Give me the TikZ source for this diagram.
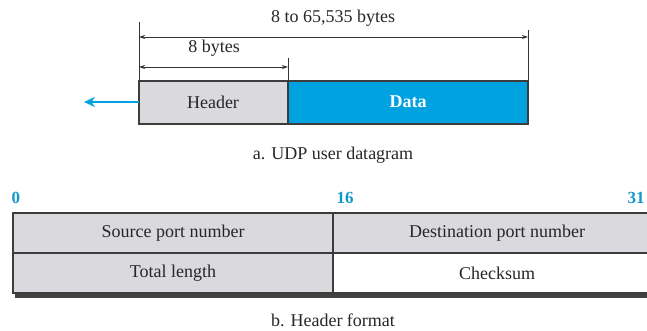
\documentclass[tikz,border=0pt]{standalone}
\usepackage{fontspec}
\setmainfont{Liberation Serif}
\usetikzlibrary{arrows.meta}
\definecolor{cellgray}{RGB}{218,218,222}
\definecolor{datacyan}{RGB}{0,162,224}
\definecolor{numcyan}{RGB}{20,150,205}
\definecolor{edge}{RGB}{60,60,60}
\tikzset{
  x=1pt, y=-1pt,
  lbl/.style={font=\fontsize{18}{20}\selectfont, inner sep=0pt, text=black!85},
  num/.style={font=\fontsize{17}{19}\selectfont\bfseries, inner sep=0pt, text=numcyan},
  cell/.style={draw=edge, line width=1.3pt},
  dim/.style={draw=black!80, line width=0.9pt, {Stealth[length=6pt,width=4pt]}-{Stealth[length=6pt,width=4pt]}},
  tick/.style={draw=black!80, line width=0.9pt},
}
\begin{document}
\begin{tikzpicture}
\useasboundingbox (0,0) rectangle (647,331);
% part a
\fill[cellgray] (139,81) rectangle (288,124);
\fill[datacyan] (288,81) rectangle (528,124);
\draw[cell] (139,81) rectangle (528,124);
\draw[cell] (288,81) -- (288,124);
\node[lbl] (hdr) at (213,102) {Header};
\node[lbl, text=white, font=\fontsize{18}{20}\selectfont\bfseries] (data) at (408,102) {Data};
\coordinate (l0) at (139,22);
\coordinate (lb) at (139,81);
\coordinate (m0) at (288,58);
\coordinate (mb) at (288,81);
\coordinate (r0) at (528,30);
\coordinate (rb) at (528,81);
\draw[tick] (l0) -- (lb);
\draw[tick] (m0) -- (mb);
\draw[tick] (r0) -- (rb);
\coordinate (a1) at (139,37);
\coordinate (a2) at (528,37);
\coordinate (b1) at (139,67);
\coordinate (b2) at (288,67);
\draw[dim] (a1) -- (a2);
\draw[dim] (b1) -- (b2);
\node[lbl] (tot) at (333,18) {8 to 65,535 bytes};
\node[lbl] (eight) at (214,48) {8 bytes};
\coordinate (s1) at (139,102);
\coordinate (s2) at (84,102);
\draw[datacyan, line width=2.2pt, -{Stealth[length=11pt,width=10pt]}] (s1) -- (s2);
\node[lbl] (capa) at (333,155) {a. UDP user datagram};
% part b
\node[num] (n0) at (16,198) {0};
\node[num] (n16) at (345,198) {16};
\node[num] (n31) at (636,198) {31};
\fill[black!75] (15,292) rectangle (665,298);
\fill[cellgray] (13,213) rectangle (665,253);
\fill[cellgray] (13,253) rectangle (333,293);
\fill[white] (333,253) rectangle (665,293);
\draw[cell] (665,213) -- (13,213) -- (13,293) -- (665,293);
\draw[cell] (13,253) -- (665,253);
\draw[cell] (333,213) -- (333,293);
\node[lbl] (src) at (173,233) {Source port number};
\node[lbl] (dst) at (497,233) {Destination port number};
\node[lbl] (len) at (173,273) {Total length};
\node[lbl] (chk) at (497,273) {Checksum};
\node[lbl] (capb) at (333,320) {b. Header format};
\end{tikzpicture}
\end{document}
